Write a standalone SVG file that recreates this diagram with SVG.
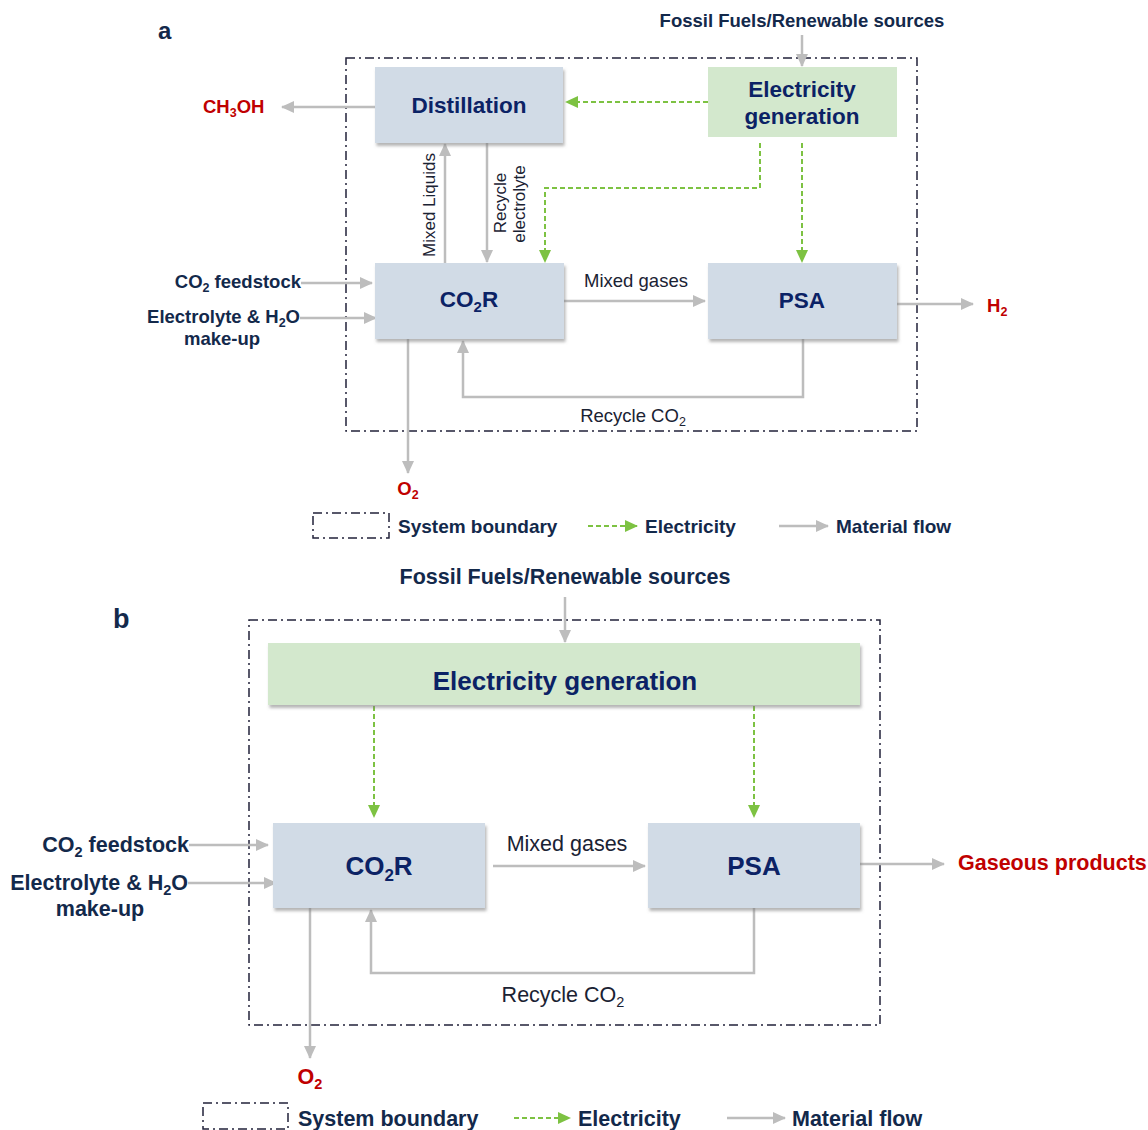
<svg xmlns="http://www.w3.org/2000/svg" width="1148" height="1130" viewBox="0 0 1148 1130">
<style>
.lbl{font-family:"Liberation Sans",Arial,sans-serif;font-weight:bold;fill:#13294b}
.node{font-family:"Liberation Sans",Arial,sans-serif;font-weight:bold;fill:#0b2265}
.reg{font-family:"Liberation Sans",Arial,sans-serif;fill:#1a2233}
.red{font-family:"Liberation Sans",Arial,sans-serif;font-weight:bold;fill:#c00000}
.box{fill:#d1dbe6}
.gbox{fill:#d3e8cd}
.mat{fill:none;stroke:#bdbdbd;stroke-width:2.5;marker-end:url(#ga)}
.elec{fill:none;stroke:#7dc242;stroke-width:2;stroke-dasharray:5 3;marker-end:url(#ea)}
.bound{fill:none;stroke:#22223a;stroke-width:1.5;stroke-dasharray:9 4 2 4}
</style>
<defs>
<marker id="ga" markerUnits="userSpaceOnUse" markerWidth="13" markerHeight="12" refX="12" refY="6" orient="auto">
<path d="M0,0 L13,6 L0,12 z" fill="#bdbdbd"/>
</marker>
<marker id="ea" markerUnits="userSpaceOnUse" markerWidth="13" markerHeight="12" refX="12" refY="6" orient="auto">
<path d="M0,0 L13,6 L0,12 z" fill="#7dc242"/>
</marker>
<filter id="sh" x="-5%" y="-10%" width="112%" height="130%">
<feDropShadow dx="1.5" dy="3" stdDeviation="1.5" flood-color="#7a7a7a" flood-opacity="0.55"/>
</filter>
</defs>

<!-- ================= PANEL A ================= -->
<text class="lbl" x="158" y="39" font-size="24" fill="#0f2040">a</text>
<rect class="bound" x="346" y="58" width="571" height="373"/>

<g id="a-connectors">
<path class="mat" d="M802,35 V66"/>
<path class="mat" d="M375,107 H282"/>
<path class="mat" d="M445,263 V144"/>
<path class="mat" d="M487,143 V262"/>
<path class="mat" d="M301,283 H372"/>
<path class="mat" d="M300,318 H376"/>
<path class="mat" d="M564,301 H705"/>
<path class="mat" d="M897,304 H973"/>
<path class="mat" d="M408,339 V473"/>
<path class="mat" d="M803,339 V397 H463 V341"/>
<path class="elec" d="M708,102 H566"/>
<path class="elec" d="M760,143 V188 H545 V262"/>
<path class="elec" d="M802,143 V262"/>
</g>

<g id="a-distillation">
<rect class="box" x="375" y="67" width="188" height="76" filter="url(#sh)"/>
<text class="node" x="469" y="113" font-size="22.5" text-anchor="middle">Distillation</text>
</g>
<g id="a-electricity">
<rect class="gbox" x="708" y="67" width="189" height="70"/>
<text class="node" x="802" y="97" font-size="22.5" text-anchor="middle">Electricity</text>
<text class="node" x="802" y="124" font-size="22.5" text-anchor="middle">generation</text>
</g>
<g id="a-co2r">
<rect class="box" x="375" y="263" width="189" height="76" filter="url(#sh)"/>
<text class="node" x="469" y="307" font-size="22.5" text-anchor="middle">CO<tspan font-size="15" dy="5">2</tspan><tspan dy="-5">R</tspan></text>
</g>
<g id="a-psa">
<rect class="box" x="708" y="263" width="189" height="76" filter="url(#sh)"/>
<text class="node" x="802" y="308" font-size="22.5" text-anchor="middle">PSA</text>
</g>

<g id="a-labels">
<text class="lbl" x="802" y="27" font-size="18.5" text-anchor="middle">Fossil Fuels/Renewable sources</text>
<text class="red" x="203" y="113" font-size="18.5">CH<tspan font-size="12.5" dy="4">3</tspan><tspan dy="-4">OH</tspan></text>
<text class="lbl" x="301" y="288" font-size="18.5" text-anchor="end">CO<tspan font-size="12.5" dy="4">2</tspan><tspan dy="-4"> feedstock</tspan></text>
<text class="lbl" x="300" y="323" font-size="18.5" text-anchor="end">Electrolyte &amp; H<tspan font-size="12.5" dy="4">2</tspan><tspan dy="-4">O</tspan></text>
<text class="lbl" x="222" y="345" font-size="18.5" text-anchor="middle">make-up</text>
<text class="reg" transform="translate(435,205) rotate(-90)" font-size="17" text-anchor="middle">Mixed Liquids</text>
<text class="reg" transform="translate(506,203) rotate(-90)" font-size="17" text-anchor="middle">Recycle</text>
<text class="reg" transform="translate(525,204) rotate(-90)" font-size="17" text-anchor="middle">electrolyte</text>
<text class="reg" x="636" y="287" font-size="18.5" text-anchor="middle">Mixed gases</text>
<text class="red" x="987" y="312" font-size="18.5">H<tspan font-size="12.5" dy="4">2</tspan></text>
<text class="reg" x="633" y="422" font-size="18.5" text-anchor="middle">Recycle CO<tspan font-size="12.5" dy="4">2</tspan></text>
<text class="red" x="408" y="495" font-size="18.5" text-anchor="middle">O<tspan font-size="12.5" dy="4">2</tspan></text>
</g>

<g id="a-legend">
<rect class="bound" x="313" y="513" width="76" height="25"/>
<text class="lbl" x="398" y="533" font-size="19">System boundary</text>
<path class="elec" d="M588,526 H637"/>
<text class="lbl" x="645" y="533" font-size="19">Electricity</text>
<path class="mat" d="M779,526 H828"/>
<text class="lbl" x="836" y="533" font-size="19">Material flow</text>
</g>

<!-- ================= PANEL B ================= -->
<text class="lbl" x="113" y="628" font-size="27" fill="#0f2040">b</text>
<rect class="bound" x="249" y="620" width="631" height="405"/>

<g id="b-connectors">
<path class="mat" d="M565,597 V642"/>
<path class="mat" d="M189,845 H268"/>
<path class="mat" d="M188,883 H276"/>
<path class="mat" d="M493,866 H645"/>
<path class="mat" d="M860,864 H944"/>
<path class="mat" d="M310,908 V1058"/>
<path class="mat" d="M754,908 V973 H371 V910"/>
<path class="elec" d="M374,706 V817"/>
<path class="elec" d="M754,706 V817"/>
</g>

<g id="b-electricity">
<rect class="gbox" x="268" y="643" width="592" height="62" filter="url(#sh)"/>
<text class="node" x="565" y="690" font-size="26" text-anchor="middle">Electricity generation</text>
</g>
<g id="b-co2r">
<rect class="box" x="273" y="823" width="212" height="85" filter="url(#sh)"/>
<text class="node" x="379" y="875" font-size="26" text-anchor="middle">CO<tspan font-size="17" dy="6">2</tspan><tspan dy="-6">R</tspan></text>
</g>
<g id="b-psa">
<rect class="box" x="648" y="823" width="212" height="85" filter="url(#sh)"/>
<text class="node" x="754" y="875" font-size="26" text-anchor="middle">PSA</text>
</g>

<g id="b-labels">
<text class="lbl" x="565" y="584" font-size="21.5" text-anchor="middle">Fossil Fuels/Renewable sources</text>
<text class="lbl" x="189" y="852" font-size="21.5" text-anchor="end">CO<tspan font-size="14.5" dy="5">2</tspan><tspan dy="-5"> feedstock</tspan></text>
<text class="lbl" x="188" y="890" font-size="21.5" text-anchor="end">Electrolyte &amp; H<tspan font-size="14.5" dy="5">2</tspan><tspan dy="-5">O</tspan></text>
<text class="lbl" x="100" y="916" font-size="21.5" text-anchor="middle">make-up</text>
<text class="reg" x="567" y="851" font-size="21.5" text-anchor="middle">Mixed gases</text>
<text class="red" x="958" y="870" font-size="21.5">Gaseous products</text>
<text class="reg" x="563" y="1002" font-size="21.5" text-anchor="middle">Recycle CO<tspan font-size="14.5" dy="5">2</tspan></text>
<text class="red" x="310" y="1084" font-size="21.5" text-anchor="middle">O<tspan font-size="14.5" dy="5">2</tspan></text>
</g>

<g id="b-legend">
<rect class="bound" x="203" y="1103" width="85" height="26"/>
<text class="lbl" x="298" y="1126" font-size="21.5">System boundary</text>
<path class="elec" d="M514,1118 H570"/>
<text class="lbl" x="578" y="1126" font-size="21.5">Electricity</text>
<path class="mat" d="M727,1118 H785"/>
<text class="lbl" x="792" y="1126" font-size="21.5">Material flow</text>
</g>
</svg>
